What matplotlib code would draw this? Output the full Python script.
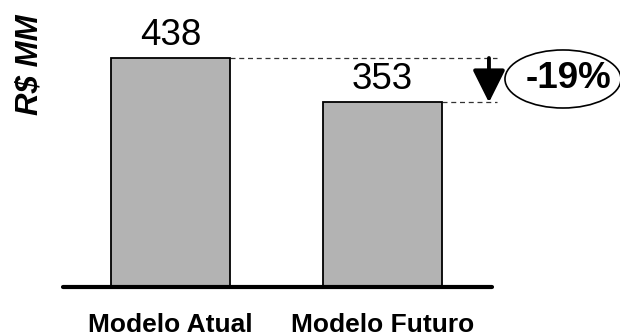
import matplotlib
matplotlib.use("Agg")
import matplotlib.pyplot as plt
from matplotlib.patches import Ellipse

categories = ["Modelo Atual", "Modelo Futuro"]
values = [438, 353]
value_labels = ["438", "353"]
unit_label = "R$ MM"
change_label = "-19%"

plt.rcParams['font.family'] = ['Liberation Sans', 'DejaVu Sans']

fig = plt.figure(figsize=(6.2, 3.36), dpi=100)
ax = fig.add_axes([0, 0, 1, 1])
ax.set_xlim(-0.804, 2.120)
ax.set_ylim(-93.7, 549.0)
ax.axis('off')

x = list(range(len(categories)))
w = 0.56
ax.bar(x, values, width=w, color='#b3b3b3', edgecolor='black', linewidth=1.3, zorder=2)

# baseline
ax.plot([-0.507, 1.517], [0, 0], color='black', lw=3.0, solid_capstyle='round', zorder=3)

# value labels
for xi, v, lab in zip(x, values, value_labels):
    ax.annotate(lab, (xi, v), xytext=(0, 9.5), textcoords='offset points',
                ha='center', va='baseline', fontsize=26.5, zorder=5,
                bbox=dict(facecolor='white', edgecolor='none', pad=0.5))

# category labels
for xi, c in zip(x, categories):
    ax.text(xi, -87.0, c, ha='center', va='baseline', fontsize=19, fontweight='bold')

# unit label
ax.text(-0.667, 424.6, unit_label, rotation=90, ha='center', va='center',
        fontsize=22.5, fontweight='bold', fontstyle='italic')

# dashed guide lines
xa = 1.502
xend = 1.54
ax.plot([x[0] + w / 2, xend], [values[0], values[0]], color='#333333', lw=0.9,
        ls=(0, (4, 3)), zorder=1)
ax.plot([x[1] + w / 2, xend], [values[1], values[1]], color='#333333', lw=0.9,
        ls=(0, (4, 3)), zorder=1)

# arrow
ax.annotate('', xy=(xa, values[1]), xytext=(xa, values[0]),
            arrowprops=dict(arrowstyle='-|>,head_length=1.0,head_width=0.5',
                            mutation_scale=20, lw=2.8, color='black',
                            shrinkA=0, shrinkB=0), zorder=4)

# ellipse with change
ax.add_patch(Ellipse((1.851, 397.9), 0.547, 111, facecolor='white',
                     edgecolor='black', lw=1.2, zorder=4, clip_on=False))
ax.text(1.875, 398.8, change_label, ha='center', va='center', fontsize=26.5,
        fontweight='bold', zorder=5)

fig.savefig('out.png', dpi=100)
